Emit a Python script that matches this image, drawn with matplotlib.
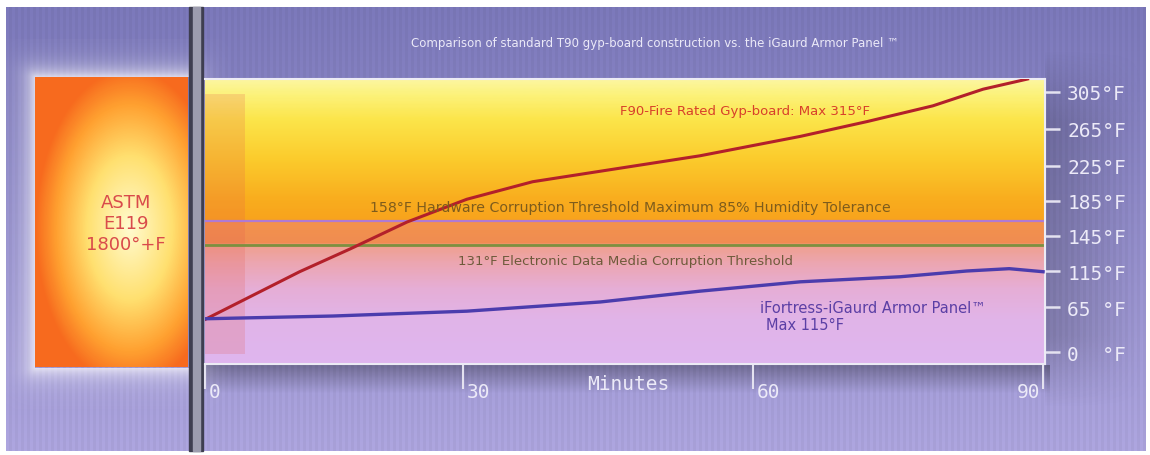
import matplotlib.pyplot as plt
import matplotlib.transforms as mtransforms
from matplotlib.colors import LinearSegmentedColormap, to_rgb
from matplotlib.patches import Rectangle
import numpy as np

# --- values ---
tick_minutes = [0, 30, 60, 90]
tick_temps = [0, 65, 115, 145, 185, 225, 265, 305]
temp_labels = [f"{t:<3d}°F" for t in tick_temps]

gyp_minutes = [0, 11.0, 16.9, 23.5, 30.4, 37.2, 44.2, 54.5, 64.9, 71.8, 78.6, 83.8, 88.4]
gyp_temps = [47, 114, 134, 161, 187, 207, 219, 236, 257, 273, 290, 308, 319]

armor_minutes = [0, 14.9, 30.4, 44.2, 54.5, 64.9, 75.2, 82.1, 86.5, 90]
armor_temps = [48, 52, 59, 72, 87, 100, 107, 115, 117, 114]

hardware_threshold = 162
media_threshold = 137

# the original axis is not evenly spaced: where each tick sits (pixels)
x_anchor_min = [-30, 0, 30, 60, 90, 120]
x_anchor_px = [-53, 205, 463, 753, 1043, 1333]
y_anchor_temp = [-100, 0, 65, 115, 145, 185, 225, 265, 305, 500]
y_anchor_px = [33.8, 103, 148, 184, 219, 254, 289, 326, 363, 543.4]

W, H = 1150, 456
fig = plt.figure(figsize=(W / 100, H / 100), dpi=100, facecolor='white')

# ---------- background ----------
bg = fig.add_axes([0, 0, 1, 1])
bg.set_xlim(0, W)
bg.set_ylim(H, 0)
bg.axis('off')

rows = np.linspace(0, 1, 444)[:, None, None]
top_c = np.array(to_rgb('#7c79bb'))
bot_c = np.array(to_rgb('#aea6e0'))
img = top_c * (1 - rows) + bot_c * rows
stripes = 1 - 0.035 * ((np.arange(1140) // 3) % 2)
img = np.clip(img * stripes[None, :, None], 0, 1)
bg.imshow(img, extent=(6, 1146, 452, 8), aspect='auto', zorder=0)

# darker shade right of the plot and under it
sh_y = np.linspace(0, 1, 120)
sh_x = np.linspace(0, 1, 100)
fade_y = np.clip(np.minimum(sh_y, 1 - sh_y) * 5, 0, 1)
shade = np.zeros((120, 100, 4))
shade[..., 3] = 0.2 * fade_y[:, None] * (1 - sh_x)[None, :]
bg.imshow(shade, extent=(1045, 1145, 410, 50), aspect='auto', zorder=1)
shade2 = np.zeros((30, 10, 4))
shade2[..., 3] = np.linspace(0.3, 0, 30)[:, None]
bg.imshow(shade2, extent=(203, 1050, 395, 366), aspect='auto', zorder=1)

# white halo round the left box
yy, xx = np.mgrid[40:410, 0:230]
dx = np.maximum(np.maximum(35 - xx, xx - 188), 0)
dy = np.maximum(np.maximum(78 - yy, yy - 368), 0)
d = np.hypot(dx, dy)
halo = np.ones((370, 230, 4))
halo[..., 3] = 0.75 * np.exp(-d / 11.0) * (d > 0)
bg.imshow(halo, extent=(0, 230, 410, 40), aspect='auto', zorder=2)

# left orange box with yellow glow
by, bx = np.mgrid[0:1:290j, 0:1:153j]
r = np.hypot((bx - 0.62) / 0.62, (by - 0.52) / 0.55)
box_cmap = LinearSegmentedColormap.from_list(
    'box', [(0, '#fffbd0'), (0.45, '#ffe070'), (0.78, '#ffa030'), (1, '#f76a1e')])
bg.imshow(box_cmap(np.clip(r, 0, 1)), extent=(35, 188, 368, 78), aspect='auto', zorder=3)
bg.text(126, 224, "ASTM\nE119\n1800°+F", ha='center', va='center', fontsize=13,
        color='#d94b4b', linespacing=1.2, zorder=4)

# vertical double bar
bg.add_patch(Rectangle((189, 8), 14, 444, color='#3e3e50', zorder=5))
bg.add_patch(Rectangle((193, 8), 7, 444, color='#9c9cae', zorder=5))

bg.text(655, 43, "Comparison of standard T90 gyp-board construction vs. the iGaurd Armor Panel ™",
        ha='center', va='center', fontsize=8.5, color='#ebe9f8', zorder=4)

# ---------- plot area gradient ----------
pos = [205 / W, (H - 365) / H, 840 / W, 285 / H]
gax = fig.add_axes(pos)
gax.axis('off')
stops = [(80, '#fcf6a0'), (95, '#fcf27a'), (120, '#fce54a'), (160, '#fbcb2c'),
         (200, '#f9ad1e'), (221, '#f8a31c'), (222, '#f3934c'), (245, '#f08c52'),
         (246, '#efa08e'), (265, '#eca6b2'), (290, '#e6aed6'), (320, '#e1b4e8'),
         (365, '#dfb6ef')]
grad_cmap = LinearSegmentedColormap.from_list(
    'grad', [((p - 80) / 285, c) for p, c in stops])
gax.imshow(grad_cmap(np.linspace(0, 1, 300))[:, None, :], extent=(0, 1, 0, 1),
           aspect='auto', transform=gax.transAxes)
gax.add_patch(Rectangle((0, 10 / 285), 40 / 840, 260 / 285, transform=gax.transAxes,
                        color='#e45a4e', alpha=0.2, lw=0))
gax.set_xlim(0, 1)
gax.set_ylim(0, 1)

# ---------- data axes ----------
ax = fig.add_axes(pos)
ax.set_facecolor('none')
ax.set_xscale('function', functions=(lambda v: np.interp(v, x_anchor_min, x_anchor_px),
                                     lambda p: np.interp(p, x_anchor_px, x_anchor_min)))
ax.set_yscale('function', functions=(lambda v: np.interp(v, y_anchor_temp, y_anchor_px),
                                     lambda p: np.interp(p, y_anchor_px, y_anchor_temp)))

ax.axhline(hardware_threshold, color='#b07ad2', lw=1.6, zorder=2)
ax.axhline(media_threshold, color='#7c9040', lw=2, zorder=2)
ax.plot(gyp_minutes, gyp_temps, color='#b3202a', lw=2.2, zorder=3)
ax.plot(armor_minutes, armor_temps, color='#4b3cad', lw=2.4, zorder=3)

ax.text(59.2, 285, "F90-Fire Rated Gyp-board: Max 315°F", ha='center', va='center',
        fontsize=9.5, color='#d8402a')
ax.text(47.3, 178, "158°F Hardware Corruption Threshold Maximum 85% Humidity Tolerance",
        ha='center', va='center', fontsize=10.2, color='#7e5c1c')
ax.text(46.8, 123.6, "131°F Electronic Data Media Corruption Threshold", ha='center',
        va='center', fontsize=9.5, color='#6e5a3a')
ax.text(60.7, 63.6, "iFortress-iGaurd Armor Panel™", ha='left', va='center',
        fontsize=10.5, color='#5b3fa5')
ax.text(61.3, 40.4, "Max 115°F", ha='left', va='center', fontsize=10.5, color='#5b3fa5')

ax.set_xlim(0, 90.2)
ax.set_ylim(-17.3, 319)

tick_font = 'DejaVu Sans Mono'
ax.set_xticks(tick_minutes)
ax.set_xticklabels([str(m) for m in tick_minutes], family=tick_font)
ax.set_yticks(tick_temps)
ax.set_yticklabels(temp_labels, family=tick_font)
ax.yaxis.tick_right()
ax.tick_params(axis='x', direction='out', length=18, width=1.5, color='#e4e2f0',
               labelsize=14, labelcolor='#eceaf8', pad=-5)
ax.tick_params(axis='y', direction='out', length=11, width=1.8, color='#e4e2f0',
               labelsize=14, labelcolor='#eceaf8', pad=5)
ax.minorticks_off()

for lbl, m in zip(ax.get_xticklabels(), tick_minutes):
    if m == tick_minutes[-1]:
        lbl.set_ha('right')
        dx = -3
    else:
        lbl.set_ha('left')
        dx = 4
    lbl.set_transform(lbl.get_transform() +
                      mtransforms.ScaledTranslation(dx / 100, 0, fig.dpi_scale_trans))

ax.set_xlabel("Minutes", fontsize=14, color='#eceaf8', family=tick_font)
ax.xaxis.set_label_coords(0.504, -0.035)

for side in ['top', 'right', 'bottom']:
    ax.spines[side].set_color('#ecebf5')
    ax.spines[side].set_linewidth(1.5)
ax.spines['left'].set_visible(False)

fig.savefig('out.png', dpi=100, facecolor='white')
